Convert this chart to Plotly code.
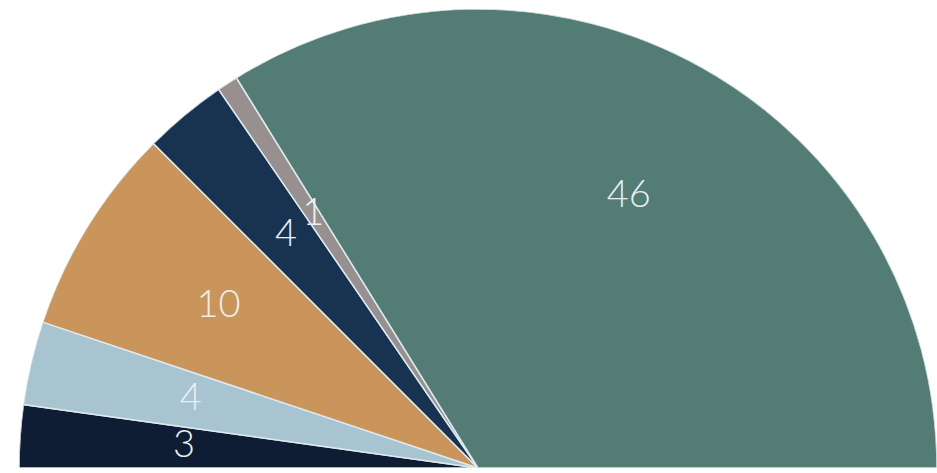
import plotly.graph_objects as go

values = [3, 4, 10, 4, 1, 46]
labels = ["3", "4", "10", "4", "1", "46"]
colors = ["#0e1d33", "#a7c4d0", "#c9955a", "#183352", "#98908f", "#527c74"]
label_r = [0.642, 0.643, 0.665, 0.655, 0.657, 0.675]

total = sum(values)
widths = [v / total * 180 for v in values]
centers = []
acc = 0
for w in widths:
    centers.append(acc + w / 2)
    acc += w

fig = go.Figure()
fig.add_trace(go.Barpolar(
    r=[1] * len(values),
    theta=centers,
    width=widths,
    marker=dict(color=colors, line=dict(color="#dce9ee", width=1.5)),
    hoverinfo="skip",
))
fig.add_trace(go.Scatterpolar(
    r=label_r,
    theta=centers,
    mode="text",
    text=labels,
    textfont=dict(family="Lato", size=38, color="#e9f0f2", weight=300),
    hoverinfo="skip",
))
fig.update_layout(
    width=937, height=473,
    margin=dict(l=19, r=0, t=9, b=5),
    paper_bgcolor="white",
    showlegend=False,
    polar=dict(
        sector=[0, 180],
        hole=0,
        bgcolor="white",
        bargap=0,
        domain=dict(x=[0, 1], y=[0, 1]),
        radialaxis=dict(visible=False, range=[0, 1]),
        angularaxis=dict(visible=False, direction="clockwise", rotation=180),
    ),
)
fig.write_html("out.html")
